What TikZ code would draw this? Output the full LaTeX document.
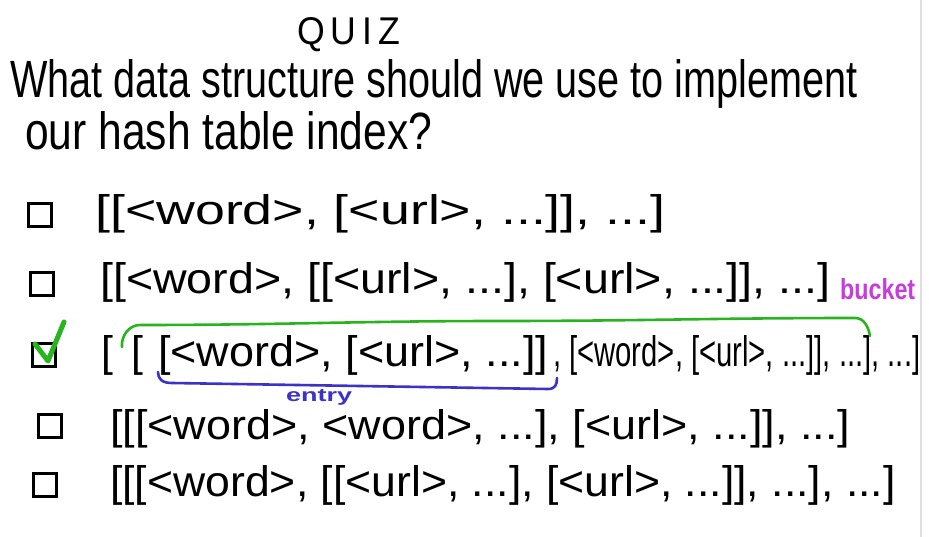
\documentclass[tikz,border=0pt]{standalone}
\usepackage{fontspec}
\setmainfont{Liberation Sans}
\usepackage{graphicx}
\definecolor{pengreen}{RGB}{40,180,30}
\definecolor{penblue}{RGB}{60,50,200}
\definecolor{penmagenta}{RGB}{200,60,220}
\newcommand{\fitto}[3]{\resizebox{#1pt}{#2pt}{#3}}
\newcommand{\fith}[2]{\resizebox{!}{#1pt}{#2}}
\begin{document}
\begin{tikzpicture}[x=1pt,y=-1pt,
  txt/.style={inner sep=0pt, anchor=base west},
  cbox/.style={draw=black, line width=3.2pt, minimum width=23pt, minimum height=23pt, inner sep=0pt},
  grnpen/.style={draw=pengreen, line width=2.6pt, line cap=round, line join=round},
  blupen/.style={draw=penblue, line width=2.6pt, line cap=round, line join=round}]
\useasboundingbox (0,0) rectangle (929,537);
\fill[white] (0,0) rectangle (929,537);
\draw[black!12, line width=1.5pt] (921,0) -- (921,537);

\node[txt] (quiz) at (297,45) {\fitto{103}{27}{Q\,U\,I\,Z}};
\node[txt] (q1) at (10,98) {\fitto{847}{38}{What data structure should we use to implement}};
\node[txt] (q2) at (25,150) {\fitto{407}{38}{our hash table index?}};

% option 1
\node[cbox] (c1) at (40,215) {};
\node[txt] (o1) at (95,225) {\fitto{570}{30}{[[<word>, [<url>, ...]], ...]}};
% option 2
\node[cbox] (c2) at (42,284) {};
\node[txt] (o2) at (100,294) {\fitto{730}{31}{[[<word>, [[<url>, ...], [<url>, ...]], ...]}};
\node[txt, text=penmagenta] (bk) at (840,300) {\fitto{75}{21}{\bfseries bucket}};
% option 3
\node[cbox] (c3) at (44,355) {};
\node[txt] (o3a) at (101,366) {\fith{31}{[}};
\node[txt] (o3b) at (131,366) {\fith{31}{[}};
\node[txt] (o3c) at (158,366) {\fitto{390}{31}{[<word>, [<url>, ...]]}};
\node[txt] (o3d) at (553,366) {\fitto{367}{31}{, [<word>, [<url>, ...]], ...], ...]}};
% option 4
\node[cbox] (c4) at (50,426) {};
\node[txt] (o4) at (110,439) {\fitto{740}{30}{[[[<word>, <word>, ...], [<url>, ...]], ...]}};
% option 5
\node[cbox] (c5) at (45,485) {};
\node[txt] (o5) at (110,496) {\fitto{785}{31}{[[[<word>, [[<url>, ...], [<url>, ...]], ...], ...]}};

% check mark
\coordinate (ck1) at (35,344);
\coordinate (ck2) at (48,361);
\coordinate (ck3) at (64,322);
\draw[grnpen, line width=5pt] (ck1) -- (ck2) -- (ck3);

% green bucket bracket
\coordinate (g1) at (122,347);
\coordinate (g2) at (140,325);
\coordinate (g3) at (500,321);
\coordinate (g4) at (855,318);
\coordinate (g5) at (870,336);
\draw[grnpen] (g1) to[out=95,in=180] (g2) to[out=0,in=180] (g3) to[out=0,in=180] (g4) to[out=0,in=100] (g5);

% blue entry bracket
\coordinate (b1) at (158,372);
\coordinate (b2) at (172,383);
\coordinate (b3) at (548,389);
\coordinate (b4) at (557,378);
\draw[blupen] (b1) .. controls (158,379) and (162,383) .. (b2) -- (b3) .. controls (555,389) and (557,385) .. (b4);
\node[txt, text=penblue] (en) at (286,401) {\fitto{66}{12}{\bfseries entry}};
\end{tikzpicture}
\end{document}
